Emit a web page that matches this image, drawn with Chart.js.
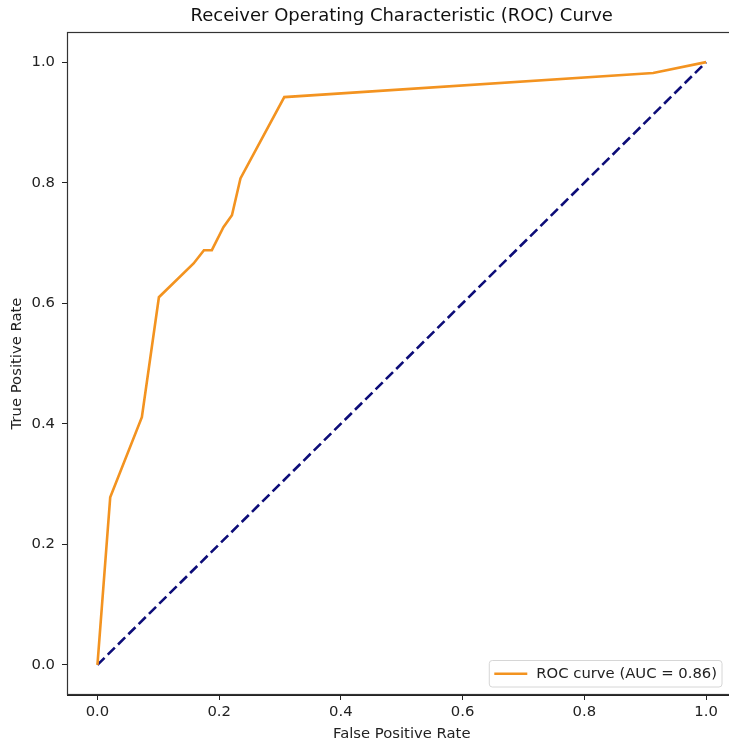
<!DOCTYPE html>
<html>
<head>
<meta charset="utf-8">
<script src="https://cdn.jsdelivr.net/npm/chart.js@4/dist/chart.umd.min.js"></script>
<style>
  html, body { margin: 0; padding: 0; background: #fff; overflow: hidden; }
  #wrap { position: absolute; left: 0; top: 0; width: 740px; height: 747px; }
</style>
</head>
<body>
<div id="wrap"><canvas id="c" width="740" height="747"></canvas></div>
<script>
// ---- data ----
const rocFpr = [0.0, 0.021, 0.073, 0.101, 0.158, 0.175, 0.188, 0.207, 0.221, 0.235, 0.307, 0.913, 1.0];
const rocTpr = [0.0, 0.278, 0.411, 0.610, 0.666, 0.688, 0.688, 0.726, 0.746, 0.807, 0.942, 0.982, 1.0];
const diagX = [0, 1];
const diagY = [0, 1];
const tickValues = [0.0, 0.2, 0.4, 0.6, 0.8, 1.0];
const titleText = 'Receiver Operating Characteristic (ROC) Curve';
const xLabel = 'False Positive Rate';
const yLabel = 'True Positive Rate';
const rocLabel = 'ROC curve (AUC = 0.86)';

const FONT = 'DejaVu Sans';
const FS = 14.8;
const ORANGE = '#f39320';
const NAVY = '#0d0d78';

const rocPts = rocFpr.map((x, i) => ({ x: x, y: rocTpr[i] }));
const diagPts = diagX.map((x, i) => ({ x: x, y: diagY[i] }));

const framePlugin = {
  id: 'frame',
  afterDatasetsDraw(chart) {
    const { ctx, chartArea: a } = chart;
    ctx.save();
    ctx.strokeStyle = '#333';
    ctx.lineWidth = 1.2;
    ctx.strokeRect(a.left + 0.5, a.top + 0.5, a.right - a.left - 1, a.bottom - a.top - 1);
    ctx.restore();
  }
};

const legendPlugin = {
  id: 'innerLegend',
  afterDraw(chart) {
    const { ctx, chartArea: a } = chart;
    const ds = chart.data.datasets[0];
    ctx.save();
    ctx.font = FS + 'px "' + FONT + '"';
    const tw = ctx.measureText(ds.label).width;
    const right = a.right - 14.5;
    const bottom = a.bottom - 8;
    const h = 26.5;
    const w = 48 + tw + 4;
    const left = right - w;
    const top = bottom - h;
    const r = 3;
    ctx.beginPath();
    ctx.moveTo(left + r, top);
    ctx.lineTo(right - r, top);
    ctx.arcTo(right, top, right, top + r, r);
    ctx.lineTo(right, bottom - r);
    ctx.arcTo(right, bottom, right - r, bottom, r);
    ctx.lineTo(left + r, bottom);
    ctx.arcTo(left, bottom, left, bottom - r, r);
    ctx.lineTo(left, top + r);
    ctx.arcTo(left, top, left + r, top, r);
    ctx.closePath();
    ctx.fillStyle = 'rgba(255,255,255,0.85)';
    ctx.fill();
    ctx.strokeStyle = '#d6d6d6';
    ctx.lineWidth = 1;
    ctx.stroke();
    const cy = top + h / 2;
    ctx.strokeStyle = ds.borderColor;
    ctx.lineWidth = ds.borderWidth;
    ctx.beginPath();
    ctx.moveTo(left + 5, cy);
    ctx.lineTo(left + 38, cy);
    ctx.stroke();
    ctx.fillStyle = '#222';
    ctx.textBaseline = 'middle';
    ctx.textAlign = 'left';
    ctx.fillText(ds.label, left + 47, cy + 0.5);
    ctx.restore();
  }
};

function setTicks(scale) {
  scale.ticks = tickValues.map(v => ({ value: v }));
}

new Chart(document.getElementById('c'), {
  type: 'scatter',
  data: {
    datasets: [
      {
        label: rocLabel,
        data: rocPts,
        showLine: true,
        borderColor: ORANGE,
        backgroundColor: ORANGE,
        borderWidth: 2.6,
        pointRadius: 0,
        tension: 0,
        order: 1
      },
      {
        label: 'diag',
        data: diagPts,
        showLine: true,
        borderColor: NAVY,
        backgroundColor: NAVY,
        borderWidth: 2.6,
        borderDash: [10, 4.5],
        pointRadius: 0,
        tension: 0,
        order: 2
      }
    ]
  },
  options: {
    responsive: false,
    animation: false,
    devicePixelRatio: 1,
    layout: { padding: { left: 0, right: 3.5, top: 0, bottom: 0 } },
    plugins: {
      legend: { display: false },
      tooltip: { enabled: false },
      title: {
        display: true,
        text: titleText,
        fullSize: false,
        color: '#111',
        font: { family: FONT, size: 18, weight: 'normal', lineHeight: 1.2 },
        padding: { top: 5.2, bottom: 5.2 }
      }
    },
    scales: {
      x: {
        type: 'linear',
        position: 'bottom',
        min: -0.05,
        max: 1.05,
        afterBuildTicks: setTicks,
        afterFit(scale) { scale.height = 52; },
        grid: { display: true, drawOnChartArea: false, drawTicks: true, tickLength: 5, color: '#222', tickWidth: 1 },
        border: { display: true, color: '#222', width: 1 },
        ticks: {
          color: '#222',
          padding: 3,
          maxRotation: 0,
          font: { family: FONT, size: FS },
          callback: v => Number(v).toFixed(1)
        },
        title: {
          display: true,
          text: xLabel,
          color: '#222',
          font: { family: FONT, size: FS, lineHeight: 1.2 },
          padding: { top: 0, bottom: 4.2 }
        }
      },
      y: {
        type: 'linear',
        position: 'left',
        min: -0.05,
        max: 1.05,
        afterBuildTicks: setTicks,
        afterFit(scale) { scale.width = 67; },
        grid: { display: true, drawOnChartArea: false, drawTicks: true, tickLength: 5, color: '#222', tickWidth: 1 },
        border: { display: true, color: '#222', width: 1 },
        ticks: {
          color: '#222',
          padding: 7,
          font: { family: FONT, size: FS },
          callback: v => Number(v).toFixed(1)
        },
        title: {
          display: true,
          text: yLabel,
          color: '#222',
          font: { family: FONT, size: FS, lineHeight: 1.2 },
          padding: { top: 8.6, bottom: 0 }
        }
      }
    }
  },
  plugins: [framePlugin, legendPlugin]
});
</script>
</body>
</html>
